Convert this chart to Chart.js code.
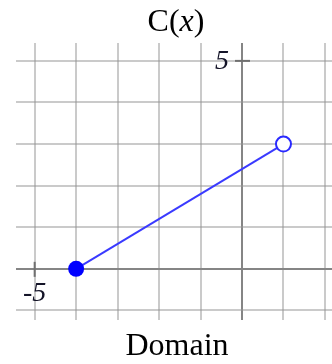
<!DOCTYPE html>
<html>
<head>
<meta charset="utf-8">
<script src="https://cdn.jsdelivr.net/npm/chart.js@4"></script>
<style>
  html, body { margin: 0; padding: 0; background: #fff; }
  #wrap { position: relative; width: 332px; height: 364px; overflow: hidden; }
  #chart { position: absolute; left: 0; top: 0; }
  .label {
    position: absolute;
    left: 0;
    width: 332px;
    text-align: center;
    font-family: "Liberation Serif", "Times New Roman", serif;
    font-size: 32px;
    color: #000;
    line-height: 1;
  }
</style>
</head>
<body>
<div id="wrap">
  <canvas id="chart" width="332" height="364"></canvas>
  <div class="label" id="title" style="top: 4px; left: 10px;">C(<i>x</i>)</div>
  <div class="label" id="xtitle" style="top: 328px; left: 11px;">Domain</div>
</div>
<script>
// segment of C(x): closed at the left end, open at the right end
const xValues = [-4, 1];
const yValues = [0, 3];
const endClosed = [true, false];

// visible window and the labelled ticks
const xRange = [-5.45, 2.17];
const yRange = [-1.23, 5.43];
const xLabelTicks = [-5];
const yLabelTicks = [5];

const points = xValues.map((x, i) => ({ x: x, y: yValues[i] }));

const gridColor = "rgba(150, 150, 150, 0.5)";
const axisColor = "#858585";

const integerTicks = (scale) => {
  const ticks = [];
  for (let v = Math.ceil(scale.min); v <= Math.floor(scale.max); v++) {
    ticks.push({ value: v });
  }
  scale.ticks = ticks;
};

// little tick marks and numbers on the axes
const axisLabels = {
  id: "axisLabels",
  afterDatasetsDraw(chart) {
    const ctx = chart.ctx;
    const xs = chart.scales.x;
    const ys = chart.scales.y;
    const x0 = xs.getPixelForValue(0);
    const y0 = ys.getPixelForValue(0);
    ctx.save();
    ctx.strokeStyle = "#707070";
    ctx.lineWidth = 2;
    ctx.fillStyle = "#141428";
    ctx.font = "italic 28px 'Liberation Serif', serif";

    yLabelTicks.forEach((v) => {
      const py = ys.getPixelForValue(v);
      ctx.beginPath();
      ctx.moveTo(x0 - 7, py);
      ctx.lineTo(x0 + 8, py);
      ctx.stroke();
      ctx.textAlign = "right";
      ctx.textBaseline = "middle";
      ctx.fillText(String(v), x0 - 13, py + 1);
    });

    xLabelTicks.forEach((v) => {
      const px = xs.getPixelForValue(v);
      ctx.beginPath();
      ctx.moveTo(px, y0 - 7);
      ctx.lineTo(px, y0 + 8);
      ctx.stroke();
      ctx.textAlign = "center";
      ctx.textBaseline = "top";
      ctx.fillText("-" + Math.abs(v), px, y0 + 11);
    });
    ctx.restore();
  },
};

new Chart(document.getElementById("chart"), {
  type: "scatter",
  data: {
    datasets: [
      {
        data: points,
        showLine: true,
        borderColor: "#3a3aff",
        borderWidth: 2,
        pointRadius: endClosed.map((c) => (c ? 8 : 7.5)),
        pointBackgroundColor: endClosed.map((c) => (c ? "#0000ff" : "#ffffff")),
        pointBorderColor: endClosed.map((c) => (c ? "#0000ff" : "#2a2aff")),
        pointBorderWidth: endClosed.map((c) => (c ? 0 : 2)),
      },
    ],
  },
  options: {
    responsive: false,
    animation: false,
    events: [],
    layout: {
      autoPadding: false,
      padding: { left: 16, top: 43, right: 0, bottom: 44 },
    },
    plugins: {
      legend: { display: false },
      tooltip: { enabled: false },
    },
    scales: {
      x: {
        type: "linear",
        min: xRange[0],
        max: xRange[1],
        afterBuildTicks: integerTicks,
        ticks: { display: false },
        border: { display: false },
        grid: {
          drawTicks: false,
          lineWidth: 2,
          color: (c) => (c.tick && c.tick.value === 0 ? axisColor : gridColor),
        },
      },
      y: {
        type: "linear",
        min: yRange[0],
        max: yRange[1],
        afterBuildTicks: integerTicks,
        ticks: { display: false },
        border: { display: false },
        grid: {
          drawTicks: false,
          lineWidth: 2,
          color: (c) => (c.tick && c.tick.value === 0 ? axisColor : gridColor),
        },
      },
    },
  },
  plugins: [axisLabels],
});
</script>
</body>
</html>
